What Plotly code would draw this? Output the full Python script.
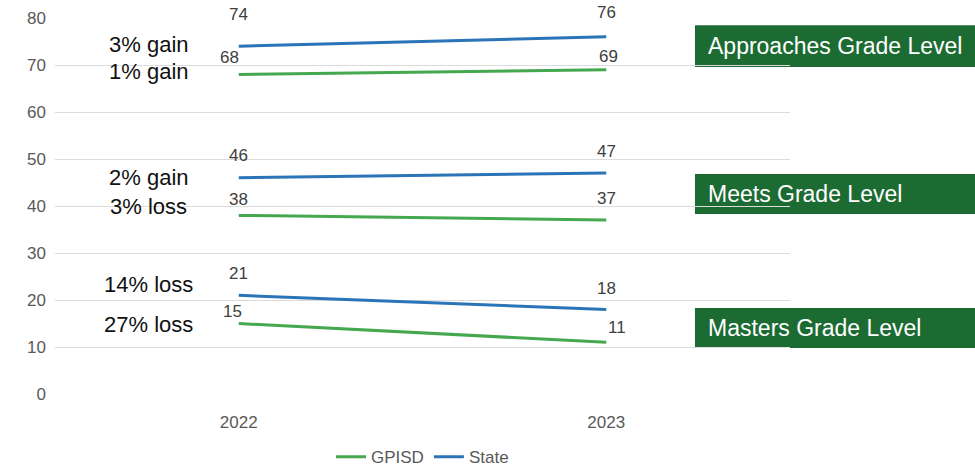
import plotly.graph_objects as go

years = ["2022", "2023"]
levels = ["Approaches Grade Level", "Meets Grade Level", "Masters Grade Level"]
gpisd = {"Approaches Grade Level": [68, 69], "Meets Grade Level": [38, 37], "Masters Grade Level": [15, 11]}
state = {"Approaches Grade Level": [74, 76], "Meets Grade Level": [46, 47], "Masters Grade Level": [21, 18]}
change_state = ["3% gain", "2% gain", "14% loss"]
change_gpisd = ["1% gain", "3% loss", "27% loss"]
y_ticks = [0, 10, 20, 30, 40, 50, 60, 70, 80]

GREEN = "#45a84f"
BLUE = "#2c74b8"
BOX = "#1c6b33"
FONT = "Liberation Sans, Arial, sans-serif"

xs = [0, 1]
fig = go.Figure()
for i, lv in enumerate(levels):
    fig.add_trace(go.Scatter(x=xs, y=gpisd[lv], mode="lines", name="GPISD",
                             line=dict(color=GREEN, width=3), legendgroup="g",
                             showlegend=(i == 0), hoverinfo="skip"))
    fig.add_trace(go.Scatter(x=xs, y=state[lv], mode="lines", name="State",
                             line=dict(color=BLUE, width=3), legendgroup="s",
                             showlegend=(i == 0), hoverinfo="skip"))

# data label offsets (style only)
g_shift = {"Approaches Grade Level": [(-9, 17), (2, 13)],
           "Meets Grade Level": [(0, 16), (0, 22)],
           "Masters Grade Level": [(-6, 12), (11, 15)]}
s_shift = {"Approaches Grade Level": [(0, 32), (0, 24)],
           "Meets Grade Level": [(0, 22), (0, 22)],
           "Masters Grade Level": [(0, 22), (0, 21)]}
annotations = []
for lv in levels:
    for j in range(2):
        for vals, sh in ((gpisd[lv], g_shift[lv][j]), (state[lv], s_shift[lv][j])):
            annotations.append(dict(x=xs[j], y=vals[j], xref="x", yref="y", text=str(vals[j]),
                                    showarrow=False, xshift=sh[0], yshift=sh[1],
                                    font=dict(size=17, color="#404040", family=FONT)))

# change labels
change_y_state = [74.3, 46.0, 23.4]
change_y_gpisd = [68.7, 39.8, 14.7]
for i in range(3):
    for txt, yy in ((change_state[i], change_y_state[i]), (change_gpisd[i], change_y_gpisd[i])):
        annotations.append(dict(x=-0.245, y=yy, xref="x", yref="y", text=txt, showarrow=False,
                                font=dict(size=22, color="#111111", family=FONT)))

# level boxes
boxes = [(0.981, 0.8697), (0.585, 0.479), (0.2287, 0.1223)]
shapes = []
for lv, (y1, y0) in zip(levels, boxes):
    shapes.append(dict(type="rect", xref="paper", yref="paper", x0=0.8707, x1=1.26, y0=y0, y1=y1,
                       fillcolor=BOX, line=dict(width=0), layer="below"))
    annotations.append(dict(x=0.886, y=(y0 + y1) / 2, xref="paper", yref="paper", text=lv,
                            showarrow=False, xanchor="left", yanchor="middle",
                            font=dict(size=23, color="white", family=FONT)))

fig.update_layout(
    width=975, height=467,
    margin=dict(l=55, r=185, t=18, b=73, autoexpand=False),
    plot_bgcolor="white", paper_bgcolor="white",
    font=dict(family=FONT, size=16, color="#595959"),
    xaxis=dict(range=[-0.5, 1.5], tickvals=xs, ticktext=years, showgrid=False,
               zeroline=False, showline=False, ticks="", ticklabelstandoff=16,
               tickfont=dict(size=17, color="#595959")),
    yaxis=dict(range=[0, 80], tickvals=y_ticks, showgrid=True, gridcolor="#dcdcdc", gridwidth=1,
               zeroline=False, showline=False, ticks="", ticklabelstandoff=8,
               tickfont=dict(size=17, color="#595959")),
    legend=dict(orientation="h", x=0.5, xanchor="center", y=-0.168, yanchor="middle",
                font=dict(size=17, color="#595959"), tracegroupgap=0),
    showlegend=True,
    annotations=annotations,
    shapes=shapes,
)
fig.write_html("out.html")
